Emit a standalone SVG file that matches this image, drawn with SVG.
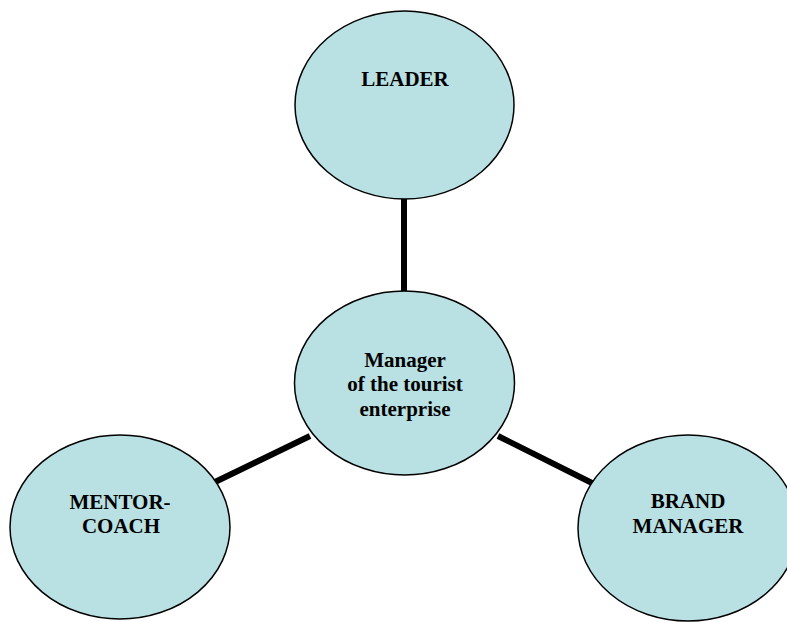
<svg xmlns="http://www.w3.org/2000/svg" width="787" height="622" viewBox="0 0 787 622">
<style>
.node{fill:#b9e0e3;stroke:#000;stroke-width:1.5}
.lbl{font-family:"Liberation Serif","Times New Roman",serif;font-weight:bold;font-size:21px;fill:#000;text-anchor:middle}
.conn{stroke:#000;stroke-width:6;fill:none}
</style>
<rect width="787" height="622" fill="#fff"/>
<g id="connectors">
<line class="conn" x1="404" y1="198" x2="404" y2="294"/>
<line class="conn" x1="215" y1="482" x2="310" y2="436"/>
<line class="conn" x1="498" y1="436" x2="596" y2="485"/>
</g>
<g id="leader">
<ellipse class="node" cx="404.5" cy="105" rx="109.5" ry="94"/>
<text class="lbl" x="405" y="86">LEADER</text>
</g>
<g id="manager">
<ellipse class="node" cx="404.5" cy="383" rx="110" ry="92"/>
<text class="lbl" x="405" y="367">Manager</text>
<text class="lbl" x="405" y="391">of the tourist</text>
<text class="lbl" x="405" y="416">enterprise</text>
</g>
<g id="mentor">
<ellipse class="node" cx="120" cy="527" rx="110" ry="92"/>
<text class="lbl" x="120" y="509">MENTOR-</text>
<text class="lbl" x="121" y="533">COACH</text>
</g>
<g id="brand">
<ellipse class="node" cx="688" cy="528" rx="110" ry="93"/>
<text class="lbl" x="688" y="508">BRAND</text>
<text class="lbl" x="688" y="533">MANAGER</text>
</g>
</svg>
